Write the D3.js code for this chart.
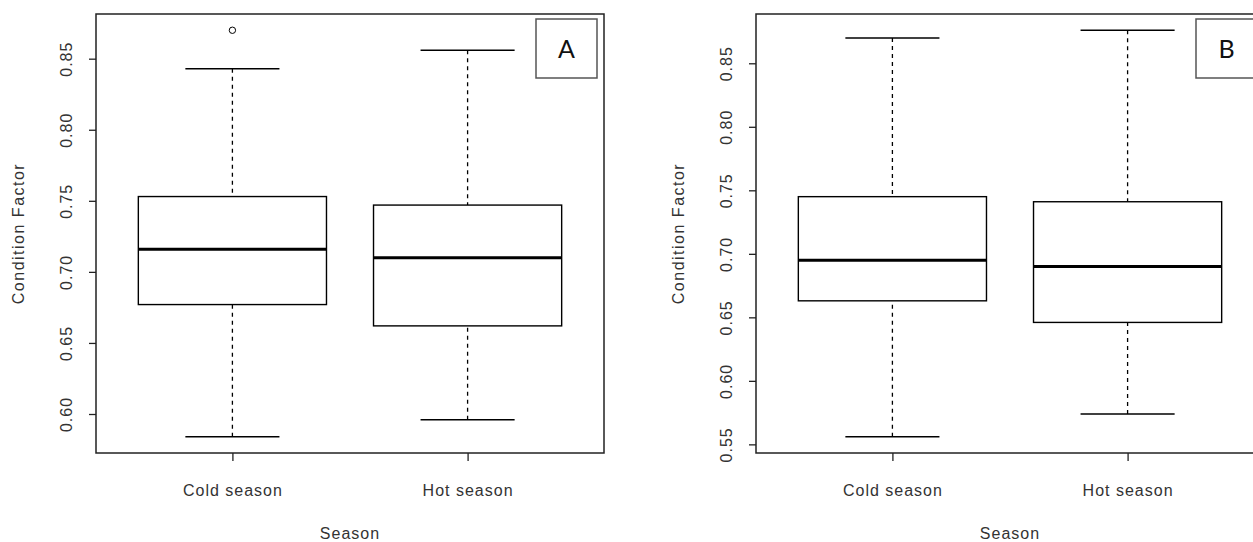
<!DOCTYPE html>
<html>
<head>
<meta charset="utf-8">
<script src="https://cdn.jsdelivr.net/npm/d3@7"></script>
<style>
  body { margin: 0; background: white; }
  svg { display: block; }
  text { font-family: "Liberation Sans", Arial, sans-serif; fill: #333; }
</style>
</head>
<body>
<div id="chart"></div>
<script>
// categories and labels
var seasons = ["Cold season", "Hot season"];
var panelNames = ["A", "B"];
var yTicksA = [0.60, 0.65, 0.70, 0.75, 0.80, 0.85];
var yTicksB = [0.55, 0.60, 0.65, 0.70, 0.75, 0.80, 0.85];

// [lower whisker, Q1, median, Q3, upper whisker] per season
var statsA = [[0.584, 0.677, 0.716, 0.753, 0.843], [0.596, 0.662, 0.710, 0.747, 0.856]];
var outliersA = [[0.870], []];
var statsB = [[0.556, 0.663, 0.695, 0.745, 0.870], [0.574, 0.646, 0.690, 0.741, 0.876]];
var outliersB = [[], []];

var W = 1253, H = 542;
var svg = d3.select("#chart").append("svg")
  .attr("width", W)
  .attr("height", H);

var panel = function(options) {
  var self = {};
  for (var key in options) self[key] = options[key];

  self.top = 14;
  self.bottom = 453;
  self.width = 508;

  // R style range: data extent padded by 4%
  var all = d3.merge(self.stats).concat(d3.merge(self.outliers));
  var ext = d3.extent(all);
  var pad = (ext[1] - ext[0]) * 0.04;

  self.y = d3.scaleLinear()
    .domain([ext[0] - pad, ext[1] + pad])
    .range([self.bottom, self.top]);

  self.x = d3.scaleLinear()
    .domain([0.42, seasons.length + 0.58])
    .range([self.left, self.left + self.width]);

  var g = svg.append("g");

  // boxes
  var boxes = g.selectAll(".box")
    .data(self.stats)
    .enter()
    .append("g")
    .attr("class", "box");

  boxes.append("line")
    .attr("x1", function(d, i) { return self.x(i + 1); })
    .attr("x2", function(d, i) { return self.x(i + 1); })
    .attr("y1", function(d) { return self.y(d[0]); })
    .attr("y2", function(d) { return self.y(d[1]); })
    .attr("stroke", "black").attr("stroke-width", 1.3)
    .attr("stroke-dasharray", "4,4");

  boxes.append("line")
    .attr("x1", function(d, i) { return self.x(i + 1); })
    .attr("x2", function(d, i) { return self.x(i + 1); })
    .attr("y1", function(d) { return self.y(d[4]); })
    .attr("y2", function(d) { return self.y(d[3]); })
    .attr("stroke", "black").attr("stroke-width", 1.3)
    .attr("stroke-dasharray", "4,4");

  [0, 4].forEach(function(k) {
    boxes.append("line")
      .attr("x1", function(d, i) { return self.x(i + 0.8); })
      .attr("x2", function(d, i) { return self.x(i + 1.2); })
      .attr("y1", function(d) { return self.y(d[k]); })
      .attr("y2", function(d) { return self.y(d[k]); })
      .attr("stroke", "black").attr("stroke-width", 1.5);
  });

  boxes.append("rect")
    .attr("x", function(d, i) { return self.x(i + 0.6); })
    .attr("width", function(d, i) { return self.x(i + 1.4) - self.x(i + 0.6); })
    .attr("y", function(d) { return self.y(d[3]); })
    .attr("height", function(d) { return self.y(d[1]) - self.y(d[3]); })
    .attr("fill", "white")
    .attr("stroke", "black").attr("stroke-width", 1.4);

  boxes.append("line")
    .attr("x1", function(d, i) { return self.x(i + 0.6); })
    .attr("x2", function(d, i) { return self.x(i + 1.4); })
    .attr("y1", function(d) { return self.y(d[2]); })
    .attr("y2", function(d) { return self.y(d[2]); })
    .attr("stroke", "black").attr("stroke-width", 3);

  self.outliers.forEach(function(list, i) {
    g.selectAll(".out" + i)
      .data(list)
      .enter()
      .append("circle")
      .attr("cx", self.x(i + 1))
      .attr("cy", function(d) { return self.y(d); })
      .attr("r", 3.2)
      .attr("fill", "white")
      .attr("stroke", "black").attr("stroke-width", 1);
  });

  // frame
  g.append("rect")
    .attr("x", self.left).attr("y", self.top)
    .attr("width", self.width).attr("height", self.bottom - self.top)
    .attr("fill", "none")
    .attr("stroke", "#222").attr("stroke-width", 1.5);

  // axes
  var yAxis = g.append("g")
    .attr("transform", "translate(" + self.left + ",0)")
    .call(d3.axisLeft(self.y).tickValues(self.ticks).tickSize(7).tickFormat(d3.format(".2f")));
  yAxis.select(".domain").remove();
  yAxis.selectAll("line").attr("stroke", "#222").attr("stroke-width", 1.3);
  yAxis.selectAll("text")
    .attr("transform", "rotate(-90)")
    .attr("x", 0).attr("y", -24).attr("dy", 0)
    .attr("text-anchor", "middle")
    .style("font-size", "16px")
    .style("letter-spacing", "1px")
    .style("fill", "#333");

  var xAxis = g.append("g")
    .attr("transform", "translate(0," + self.bottom + ")")
    .call(d3.axisBottom(self.x).tickValues([1, 2]).tickSize(8)
      .tickFormat(function(d) { return seasons[d - 1]; }));
  xAxis.select(".domain").remove();
  xAxis.selectAll("line").attr("stroke", "#222").attr("stroke-width", 1.3);
  xAxis.selectAll("text")
    .attr("y", 43).attr("dy", 0)
    .style("font-size", "16px")
    .style("letter-spacing", "1px")
    .style("fill", "#333");

  g.append("text")
    .attr("x", self.x(1.5)).attr("y", 539)
    .attr("text-anchor", "middle")
    .style("font-size", "16px")
    .style("letter-spacing", "1px")
    .text("Season");

  g.append("text")
    .attr("transform", "translate(" + (self.left - 72) + "," + ((self.top + self.bottom) / 2) + ") rotate(-90)")
    .attr("text-anchor", "middle")
    .style("font-size", "16px")
    .style("letter-spacing", "1.5px")
    .text("Condition Factor");

  // panel letter
  g.append("rect")
    .attr("x", self.left + 440).attr("y", 19)
    .attr("width", 61).attr("height", 59)
    .attr("fill", "white")
    .attr("stroke", "#555").attr("stroke-width", 1.5);
  g.append("text")
    .attr("x", self.left + 470.5).attr("y", 58)
    .attr("text-anchor", "middle")
    .style("font-family", "Lato, 'Open Sans', sans-serif")
    .style("font-size", "25px")
    .style("fill", "#111")
    .text(self.name);

  return self;
};

panel({ left: 96, stats: statsA, outliers: outliersA, ticks: yTicksA, name: panelNames[0] });
panel({ left: 756, stats: statsB, outliers: outliersB, ticks: yTicksB, name: panelNames[1] });
</script>
</body>
</html>
